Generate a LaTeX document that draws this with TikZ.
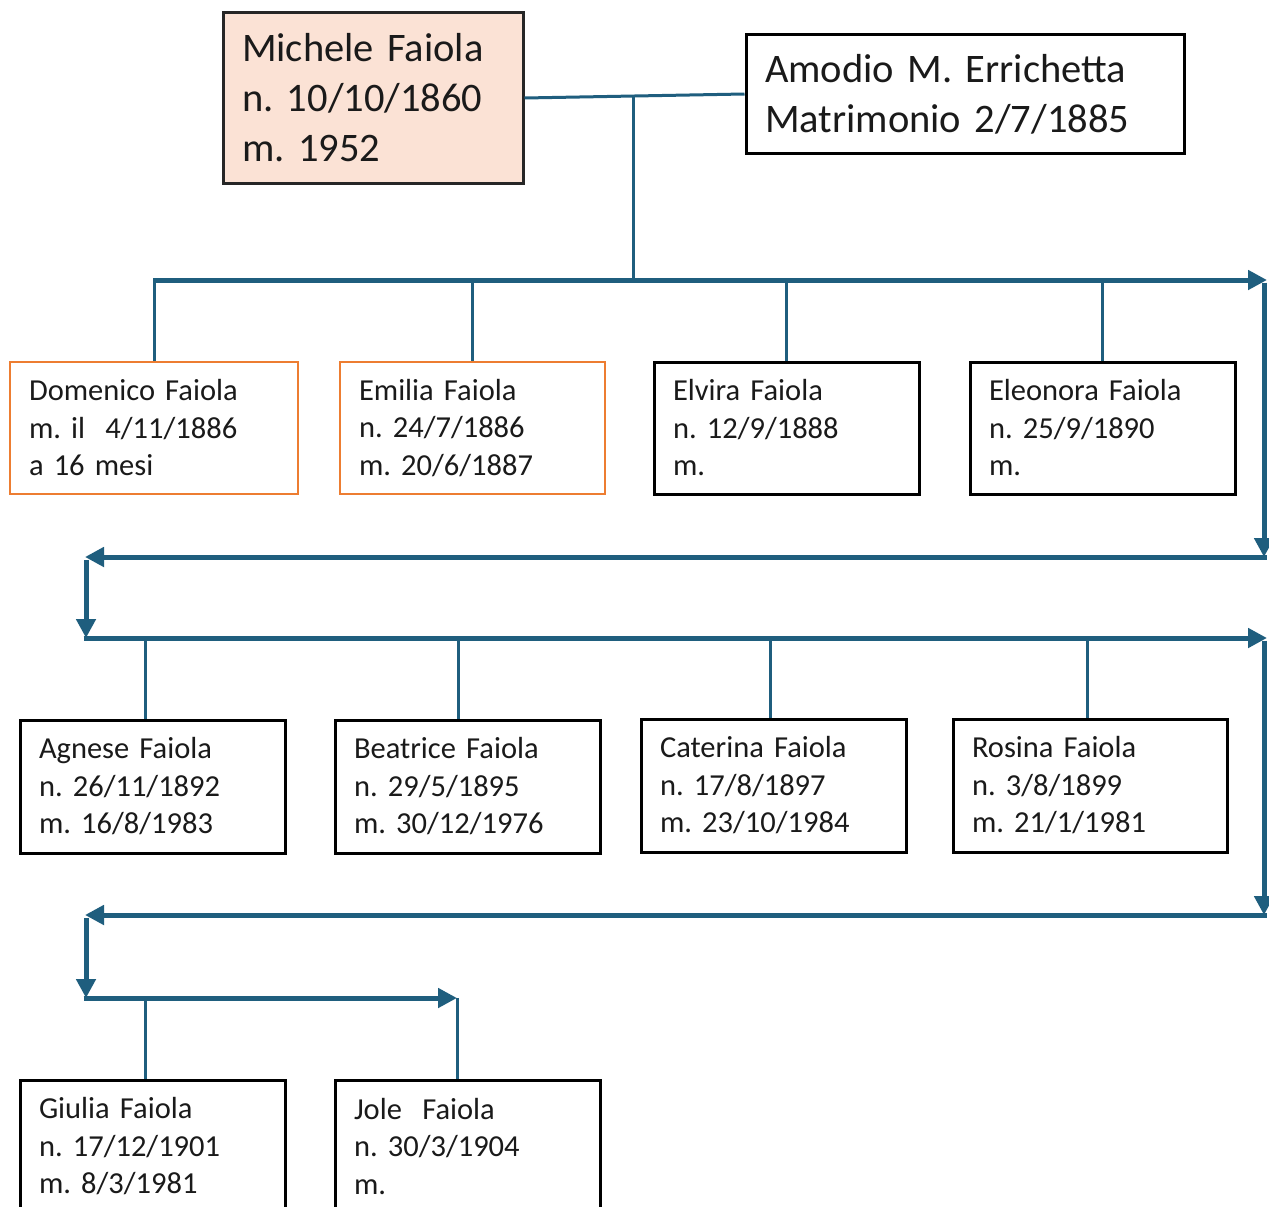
\documentclass[tikz,border=0pt]{standalone}
\usepackage{fontspec}
\setmainfont[WordSpace=0.85]{Carlito}
\usetikzlibrary{arrows.meta}
\definecolor{busblue}{HTML}{1F5E7E}
\definecolor{salmon}{HTML}{FBE2D5}
\definecolor{orangeb}{HTML}{ED7D31}
\definecolor{txt}{HTML}{1A1A1A}
\frenchspacing
\begin{document}
\begin{tikzpicture}[x=1pt,y=-1pt,
  bigbox/.style={draw=black!85, line width=3pt, inner xsep=19pt, inner ysep=0pt,
    align=left, text=txt, font=\fontsize{40.5}{50}\selectfont\frenchspacing, anchor=center},
  kidbox/.style={draw=black, line width=3pt, fill=white, inner xsep=19pt, inner ysep=0pt,
    minimum height=132pt, align=left, text=txt, font=\fontsize{30.5}{37.5}\selectfont\frenchspacing, anchor=center},
  kidw/.style={text width=#1pt-38pt, minimum width=#1pt},
  lostbox/.style={draw=orangeb, line width=2.5pt},
  bus/.style={draw=busblue, line width=5pt, -{Triangle[length=19pt,width=19pt]}},
  busplain/.style={draw=busblue, line width=3pt},
  drop/.style={draw=busblue, line width=3pt}
]
\useasboundingbox (0,0) rectangle (1269,1207);
\fill[white] (0,0) rectangle (1269,1207);

% parents
\node[bigbox, fill=salmon, text width=262pt, minimum width=300pt, minimum height=170pt] (mich) at (373,98)
  {Michele Faiola\\n. 10/10/1860\\m. 1952};
\node[bigbox, fill=white, draw=black, text width=400pt, minimum width=438pt, minimum height=118pt] (amod) at (965,94)
  {Amodio M. Errichetta\\Matrimonio 2/7/1885};

% row 1
\node[kidbox, kidw=288, lostbox] (dom) at (154,428) {Domenico Faiola\\m. il\ \ 4/11/1886\\a 16 mesi};
\node[kidbox, kidw=265, lostbox] (emi) at (472.5,428) {Emilia Faiola\\n. 24/7/1886\\m. 20/6/1887};
\node[kidbox, kidw=265] (elv) at (786.5,428) {Elvira Faiola\\n. 12/9/1888\\m.};
\node[kidbox, kidw=265] (ele) at (1102.5,428) {Eleonora Faiola\\n. 25/9/1890\\m.};

% row 2
\node[kidbox, kidw=265, minimum height=133pt] (agn) at (152.5,786.5) {Agnese Faiola\\n. 26/11/1892\\m. 16/8/1983};
\node[kidbox, kidw=265, minimum height=133pt] (bea) at (467.5,786.5) {Beatrice Faiola\\n. 29/5/1895\\m. 30/12/1976};
\node[kidbox, kidw=265, minimum height=133pt] (cat) at (773.5,785.5) {Caterina Faiola\\n. 17/8/1897\\m. 23/10/1984};
\node[kidbox, kidw=274, minimum height=133pt] (ros) at (1090,785.5) {Rosina Faiola\\n. 3/8/1899\\m. 21/1/1981};

% row 3
\node[kidbox, kidw=265, minimum height=133pt] (giu) at (152.5,1146.5) {Giulia Faiola\\n. 17/12/1901\\m. 8/3/1981};
\node[kidbox, kidw=265, minimum height=133pt] (jol) at (467.5,1146.5) {Jole\ \ Faiola\\n. 30/3/1904\\m.};

% bus coordinates
\coordinate (j0) at (633,96.5);
\coordinate (b1L) at (153,280);
\coordinate (b1R) at (1267,280);
\coordinate (b2R) at (1264,557);
\coordinate (b2L) at (85,557);
\coordinate (b3L) at (86,638);
\coordinate (b3R) at (1267,638);
\coordinate (b4R) at (1264,915);
\coordinate (b4L) at (85,915);
\coordinate (b5L) at (86,998);
\coordinate (b5R) at (457,998);

% marriage line
\draw[busplain] (mich.east) -- (amod.west);
\draw[drop] (j0) -- (j0 |- b1L);

% bus arrows
\draw[bus] (b1L) -- (b1R);
\draw[bus] ([yshift=-2.5pt]b1R -| b2R) -- (b2R);
\draw[bus] ([xshift=2.5pt]b2R) -- (b2L);
\draw[bus] ([yshift=-2.5pt]b2L -| b3L) -- (b3L);
\draw[bus] ([xshift=-2.5pt]b3L) -- (b3R);
\draw[bus] ([yshift=-2.5pt]b3R -| b4R) -- (b4R);
\draw[bus] ([xshift=2.5pt]b4R) -- (b4L);
\draw[bus] ([yshift=-2.5pt]b4L -| b5L) -- (b5L);
\draw[bus] ([xshift=-2.5pt]b5L) -- (b5R);

% drops row 1
\draw[drop] (dom.north) -- (dom.north |- b1L);
\draw[drop] (emi.north) -- (emi.north |- b1L);
\draw[drop] (elv.north) -- (elv.north |- b1L);
\draw[drop] (ele.north) -- (ele.north |- b1L);
% drops row 2
\draw[drop] ([xshift=-7.5pt]agn.north) -- ([xshift=-7.5pt]agn.north |- b3L);
\draw[drop] ([xshift=-9.5pt]bea.north) -- ([xshift=-9.5pt]bea.north |- b3L);
\draw[drop] ([xshift=-3.5pt]cat.north) -- ([xshift=-3.5pt]cat.north |- b3L);
\draw[drop] ([xshift=-3pt]ros.north) -- ([xshift=-3pt]ros.north |- b3L);
% drops row 3
\draw[drop] ([xshift=-7.5pt]giu.north) -- ([xshift=-7.5pt]giu.north |- b5L);
\draw[drop] ([xshift=-10.5pt]jol.north) -- ([xshift=-10.5pt]jol.north |- b5L);
\end{tikzpicture}
\end{document}
